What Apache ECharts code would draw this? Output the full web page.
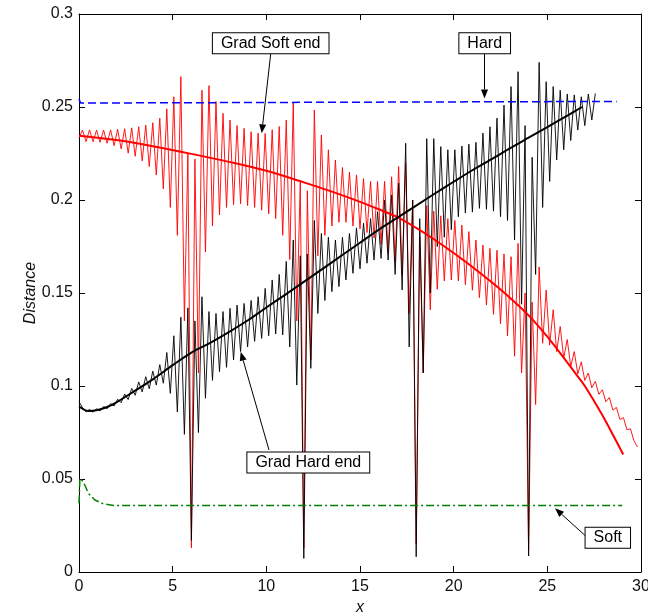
<!DOCTYPE html>
<html>
<head>
<meta charset="utf-8">
<script src="https://cdn.jsdelivr.net/npm/echarts@6/dist/echarts.min.js"></script>
<style>
	html, body { margin: 0; padding: 0; background: #fff; }
	#chart { width: 648px; height: 614px; }
</style>
</head>
<body>
<div id="chart"></div>
<script>
// peaks and troughs of the oscillating curves, read every half period
var xStep = 0.1875;

// Grad Soft end (thin red), starts at x = 0
var gradSoftEnd = [
	0.2335, 0.2376, 0.2314, 0.2377, 0.2313, 0.2376, 0.2310, 0.2376, 0.2305, 0.2377, 0.2292, 0.2380, 0.2275, 0.2383, 0.2252, 0.2388,
	0.2235, 0.2394, 0.2210, 0.2403, 0.2180, 0.2415, 0.2134, 0.2440, 0.2060, 0.2490, 0.1960, 0.2555, 0.1810, 0.2663, 0.1350, 0.2250,
	0.0130, 0.2220, 0.1070, 0.2590, 0.1720, 0.2615, 0.1860, 0.2530, 0.1920, 0.2466, 0.1960, 0.2430, 0.1975, 0.2400, 0.1980, 0.2385,
	0.1970, 0.2367, 0.1960, 0.2360, 0.1945, 0.2358, 0.1925, 0.2378, 0.1900, 0.2395, 0.1810, 0.2430, 0.1680, 0.2525, 0.1350, 0.2100,
	0.0130, 0.2050, 0.1140, 0.2484, 0.1700, 0.2350, 0.1810, 0.2270, 0.1860, 0.2215, 0.1880, 0.2175, 0.1880, 0.2150, 0.1860, 0.2135,
	0.1845, 0.2115, 0.1825, 0.2100, 0.1795, 0.2100, 0.1760, 0.2100, 0.1720, 0.2125, 0.1670, 0.2180, 0.1600, 0.2197, 0.1390, 0.2000,
	0.0150, 0.1800, 0.1070, 0.1970, 0.1410, 0.1940, 0.1520, 0.1915, 0.1565, 0.1900, 0.1570, 0.1890, 0.1565, 0.1865, 0.1545, 0.1830,
	0.1515, 0.1785, 0.1475, 0.1758, 0.1435, 0.1740, 0.1385, 0.1730, 0.1335, 0.1710, 0.1270, 0.1695, 0.1160, 0.1767, 0.1070, 0.1500,
	0.0120, 0.1450, 0.0900, 0.1640, 0.1230, 0.1516, 0.1220, 0.1410, 0.1185, 0.1320, 0.1150, 0.1250, 0.1105, 0.1185, 0.1065, 0.1130,
	0.1030, 0.1070, 0.0990, 0.1025, 0.0955, 0.0980, 0.0915, 0.0938, 0.0870, 0.0885, 0.0820, 0.0830, 0.0765, 0.0770, 0.0705, 0.0672
];

// Grad Hard end (thin black), starts at x = 0
var gradHardEnd = [
	0.0915, 0.0884, 0.0860, 0.0874, 0.0859, 0.0878, 0.0866, 0.0889, 0.0878, 0.0905, 0.0893, 0.0929, 0.0910, 0.0957, 0.0927, 0.0987,
	0.0950, 0.1022, 0.0968, 0.1050, 0.0985, 0.1080, 0.1005, 0.1115, 0.1015, 0.1180, 0.0960, 0.1270, 0.0860, 0.1370, 0.0740, 0.1420,
	0.0170, 0.1350, 0.0750, 0.1480, 0.0934, 0.1400, 0.1030, 0.1390, 0.1077, 0.1400, 0.1100, 0.1418, 0.1140, 0.1435, 0.1185, 0.1444,
	0.1210, 0.1460, 0.1240, 0.1480, 0.1256, 0.1525, 0.1270, 0.1570, 0.1280, 0.1600, 0.1275, 0.1670, 0.1210, 0.1785, 0.1005, 0.1700,
	0.0073, 0.1710, 0.1095, 0.1890, 0.1390, 0.1820, 0.1460, 0.1800, 0.1507, 0.1785, 0.1534, 0.1800, 0.1570, 0.1820, 0.1606, 0.1850,
	0.1630, 0.1875, 0.1660, 0.1900, 0.1677, 0.1937, 0.1686, 0.2000, 0.1677, 0.2027, 0.1600, 0.2090, 0.1516, 0.2305, 0.1210, 0.2000,
	0.0082, 0.1900, 0.1070, 0.2330, 0.1500, 0.2330, 0.1750, 0.2287, 0.1800, 0.2270, 0.1840, 0.2270, 0.1910, 0.2290, 0.1930, 0.2300,
	0.1935, 0.2310, 0.1955, 0.2360, 0.1950, 0.2394, 0.1940, 0.2440, 0.1910, 0.2510, 0.1890, 0.2610, 0.1785, 0.2690, 0.1440, 0.2400,
	0.0086, 0.2230, 0.1600, 0.2740, 0.1960, 0.2636, 0.2100, 0.2610, 0.2215, 0.2590, 0.2270, 0.2570, 0.2320, 0.2565, 0.2376, 0.2555,
	0.2400, 0.2570, 0.2430, 0.2573
];

// thick smooth curves
var softMeanX = [0, 2, 4, 6, 8, 10, 12, 13.5, 15, 16, 17, 18, 19, 20, 21, 22, 23, 24, 25, 26, 26.5, 27, 27.5, 28, 28.5, 29.05];
var softMeanY = [0.2345, 0.2322, 0.2288, 0.2248, 0.2205, 0.2157, 0.2095, 0.2045, 0.1990, 0.1950, 0.1908, 0.1850, 0.1785, 0.1715, 0.1640, 0.1560, 0.1475, 0.1380, 0.1265, 0.1135, 0.1068, 0.1000, 0.0918, 0.0832, 0.0738, 0.0632];
var hardMeanX = [0, 0.5, 1, 1.5, 2, 3, 4, 5, 6, 7, 8, 9, 10, 11, 12, 13, 14, 15, 16, 17, 18, 19, 20, 21, 22, 23, 24, 25, 26, 26.85];
var hardMeanY = [0.0890, 0.0866, 0.0871, 0.0887, 0.0912, 0.0975, 0.1040, 0.1112, 0.1180, 0.1232, 0.1290, 0.1352, 0.1422, 0.1490, 0.1560, 0.1630, 0.1700, 0.1770, 0.1840, 0.1905, 0.1970, 0.2035, 0.2098, 0.2160, 0.2218, 0.2278, 0.2335, 0.2392, 0.2450, 0.2500];

// Hard (blue dashed) and Soft (green dash-dot)
var hardX = [0, 0.08, 2.3, 2.35, 28.7];
var hardY = [0.2545, 0.2522, 0.2522, 0.2530, 0.2530];
var softX = [0, 0.05, 0.23, 0.5, 0.85, 1.3, 1.83, 29];
var softY = [0.0370, 0.0504, 0.0486, 0.0423, 0.0387, 0.0366, 0.0358, 0.0358];

var fontName = '"Liberation Sans", Arial, sans-serif';

function gridPairs(values) {
	return values.map(function(v, i) {
		return [i * xStep, v];
	});
}

function zipPairs(xs, ys) {
	return xs.map(function(x, i) {
		return [x, ys[i]];
	});
}

function lineSeries(data, color, width, type, z) {
	return {
		type: 'line',
		data: data,
		showSymbol: false,
		symbol: 'none',
		z: z,
		lineStyle: {
			color: color,
			width: width,
			type: type
		}
	};
}

//标注框
function labelBox(text, x, y) {
	return {
		type: 'text',
		x: x,
		y: y,
		z: 100,
		style: {
			text: text,
			font: '16px ' + fontName,
			fill: '#000',
			align: 'center',
			verticalAlign: 'middle',
			backgroundColor: '#fff',
			borderColor: '#000',
			borderWidth: 1,
			padding: [2, 8, 2, 8]
		}
	};
}

//箭头
function arrow(x1, y1, x2, y2) {
	var dx = x2 - x1, dy = y2 - y1;
	var len = Math.sqrt(dx * dx + dy * dy);
	var ux = dx / len, uy = dy / len;
	var head = 9, half = 3.5;
	var bx = x2 - ux * head, by = y2 - uy * head;
	return {
		type: 'group',
		z: 100,
		children: [{
			type: 'line',
			shape: { x1: x1, y1: y1, x2: bx, y2: by },
			style: { stroke: '#000', lineWidth: 1 }
		}, {
			type: 'polygon',
			shape: {
				points: [[x2, y2], [bx - uy * half, by + ux * half], [bx + uy * half, by - ux * half]]
			},
			style: { fill: '#000' }
		}]
	};
}

function renderChart() {
	var axisLine = { show: true, onZero: false, lineStyle: { color: '#000', width: 1 } };
	var axisTick = { show: true, inside: true, length: 6, lineStyle: { color: '#000' } };

	var option = {
		animation: false,
		backgroundColor: '#fff',
		grid: {
			left: 79,
			right: 7,
			top: 14,
			bottom: 42,
			outerBoundsMode: 'none'
		},
		xAxis: [{
			type: 'value',
			min: 0,
			max: 30,
			interval: 5,
			name: 'x',
			nameLocation: 'middle',
			nameGap: 25,
			nameTextStyle: { color: '#111', fontSize: 16, fontStyle: 'italic', fontFamily: fontName },
			axisLine: axisLine,
			axisTick: axisTick,
			axisLabel: { color: '#111', fontSize: 16, fontFamily: fontName, margin: 7 },
			splitLine: { show: false }
		}, {
			type: 'value',
			position: 'top',
			min: 0,
			max: 30,
			interval: 5,
			axisLine: axisLine,
			axisTick: axisTick,
			axisLabel: { show: false },
			splitLine: { show: false }
		}],
		yAxis: [{
			type: 'value',
			min: 0,
			max: 0.3,
			interval: 0.05,
			name: 'Distance',
			nameLocation: 'middle',
			nameGap: 40,
			nameMoveOverlap: false,
			nameRotate: 90,
			nameTextStyle: { color: '#111', fontSize: 16, fontStyle: 'italic', fontFamily: fontName },
			axisLine: axisLine,
			axisTick: axisTick,
			axisLabel: { color: '#111', fontSize: 16, fontFamily: fontName, margin: 6 },
			splitLine: { show: false }
		}, {
			type: 'value',
			position: 'right',
			min: 0,
			max: 0.3,
			interval: 0.05,
			axisLine: axisLine,
			axisTick: axisTick,
			axisLabel: { show: false },
			splitLine: { show: false }
		}],
		series: [
			lineSeries(gridPairs(gradSoftEnd), '#ff0000', 0.9, 'solid', 2),
			lineSeries(gridPairs(gradHardEnd), '#000000', 0.9, 'solid', 3),
			lineSeries(zipPairs(hardX, hardY), '#0000ff', 1.5, [8, 4], 4),
			lineSeries(zipPairs(softX, softY), '#008000', 1.5, [8, 3, 2, 3], 4),
			lineSeries(zipPairs(softMeanX, softMeanY), '#ff0000', 2, 'solid', 5),
			lineSeries(zipPairs(hardMeanX, hardMeanY), '#000000', 2, 'solid', 6)
		],
		graphic: [
			arrow(270.7, 54, 261.7, 133.3),
			arrow(484.5, 54, 484.5, 98.5),
			arrow(269, 450, 240.7, 351.7),
			arrow(585.7, 536, 555, 508.3),
			labelBox('Grad Soft end', 270.7, 43.3),
			labelBox('Hard', 484.7, 43.3),
			labelBox('Grad Hard end', 308.3, 462.5),
			labelBox('Soft', 607.8, 537.8)
		]
	};
	option.series[4].smooth = 0.3;
	option.series[5].smooth = 0.3;
	var chart = echarts.init(document.getElementById('chart'));
	chart.setOption(option);
}

renderChart();
</script>
</body>
</html>
